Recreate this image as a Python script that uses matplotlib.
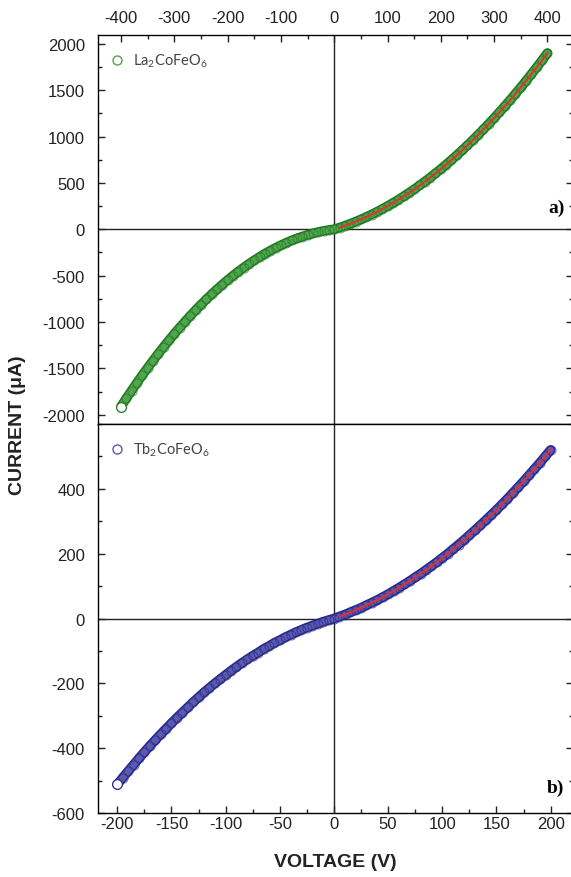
import numpy as np
import matplotlib.pyplot as plt
from matplotlib.ticker import MultipleLocator

plt.rcParams.update({
    "font.family": ["Liberation Sans", "DejaVu Sans"],
    "xtick.labelsize": 12,
    "ytick.labelsize": 12,
    "axes.linewidth": 1.0,
    "axes.unicode_minus": False,
})

# La2CoFeO6 : voltage (V) and current (uA), 10 V steps
V_la_pos = np.arange(0, 401, 10)
I_la_pos = [0, 18, 38, 59, 82, 106, 132, 159, 188, 218,
            250, 283, 318, 354, 392, 431, 472, 514, 558, 603,
            650, 698, 748, 799, 852, 906, 962, 1019, 1078, 1138,
            1200, 1263, 1328, 1394, 1462, 1531, 1602, 1674, 1748, 1823,
            1900]
V_la_neg = -np.arange(10, 401, 10)
I_la_neg = [-8, -18, -30, -44, -61, -79, -99, -121, -146, -172,
            -200, -231, -263, -298, -335, -373, -414, -456, -501, -548,
            -597, -648, -701, -756, -813, -872, -933, -996, -1061, -1128,
            -1197, -1268, -1342, -1417, -1495, -1574, -1655, -1739, -1824, -1912]

# Tb2CoFeO6 : voltage (V) and current (uA), 5 V steps
V_tb_pos = np.arange(0, 201, 5)
I_tb_pos = [0, 6, 12, 19, 26, 33, 41, 49, 57, 66,
            75, 85, 95, 105, 116, 127, 138, 150, 162, 174,
            187, 200, 214, 228, 242, 257, 272, 287, 303, 319,
            335, 352, 369, 387, 405, 423, 442, 461, 480, 500,
            520]
V_tb_neg = -np.arange(5, 201, 5)
I_tb_neg = [-5, -10, -16, -22, -28, -35, -42, -50, -58, -67,
            -75, -85, -94, -105, -115, -126, -137, -149, -161, -174,
            -187, -200, -214, -228, -243, -258, -274, -290, -306, -323,
            -340, -357, -375, -393, -412, -431, -451, -471, -491, -512]

green = ('#237a23', '#4fa64f')
blue = ('#2a2a8a', '#5a5ab0')
red = '#e5302a'

fig = plt.figure(figsize=(5.71, 8.78), dpi=100)
W, H = 571, 878
ax1 = fig.add_axes([97.5 / W, (H - 425) / H, 475 / W, 389 / H])
ax2 = fig.add_axes([97.5 / W, (H - 814) / H, 475 / W, 389 / H])


def draw_panel(ax, Vp, Ip, Vn, In, cols, name):
    V = np.concatenate([Vn[::-1], Vp])
    I = np.concatenate([In[::-1], Ip])
    dark, light = cols
    ax.axhline(0, color='#222222', lw=1.0, zorder=1)
    ax.axvline(0, color='#222222', lw=1.0, zorder=1)
    # densely packed open circles read as a band
    ax.plot(V, I, '-', color=dark, lw=7.0, solid_capstyle='round', zorder=2)
    ax.plot(V, I, '-', color=light, lw=4.8, solid_capstyle='round', zorder=2)
    ax.plot(V, I, 'o', ms=6.5, mfc='none', mec=dark, mew=0.7, alpha=0.7,
            zorder=2)
    ax.plot(V[:1], I[:1], 'o', ms=7.0, mfc='white', mec=dark, mew=0.9,
            zorder=2)
    ax.plot(Vp[1:], Ip[1:], '-', color=red, lw=1.4, zorder=3)
    ax.plot([], [], 'o', ms=6.5, mfc='none', mec=light, mew=1.0, label=name)
    leg = ax.legend(loc='upper left', bbox_to_anchor=(0.008, 0.985),
                    frameon=False, handlelength=0.6, handletextpad=0.8,
                    borderaxespad=0.35, prop={'family': 'Lato', 'size': 10.5})
    for t in leg.get_texts():
        t.set_color('#444444')
    ax.tick_params(which='both', direction='in', right=True, width=1.0,
                   colors='#222222')
    ax.tick_params(which='major', length=5)
    ax.tick_params(which='minor', length=3)


draw_panel(ax1, V_la_pos, I_la_pos, V_la_neg, I_la_neg, green,
           r'La$\mathregular{_2}$CoFeO$\mathregular{_6}$')
draw_panel(ax2, V_tb_pos, I_tb_pos, V_tb_neg, I_tb_neg, blue,
           r'Tb$\mathregular{_2}$CoFeO$\mathregular{_6}$')

# top panel: voltage axis on top
ax1.set_xlim(-444, 447)
ax1.set_ylim(-2100, 2095)
ax1.xaxis.set_major_locator(MultipleLocator(100))
ax1.xaxis.set_minor_locator(MultipleLocator(50))
ax1.yaxis.set_major_locator(MultipleLocator(500))
ax1.yaxis.set_minor_locator(MultipleLocator(250))
ax1.tick_params(axis='x', which='both', top=True, bottom=False,
                labeltop=True, labelbottom=False, pad=7)
ax1.tick_params(axis='y', pad=9)

# bottom panel
ax2.set_xlim(-218.3, 220.2)
ax2.set_ylim(-600, 600)
ax2.xaxis.set_major_locator(MultipleLocator(50))
ax2.xaxis.set_minor_locator(MultipleLocator(25))
ax2.yaxis.set_major_locator(MultipleLocator(200))
ax2.yaxis.set_minor_locator(MultipleLocator(100))
ax2.tick_params(axis='x', which='both', top=False, bottom=True, pad=2.5)
ax2.tick_params(axis='y', pad=9)
ax2.set_yticks([-600, -400, -200, 0, 200, 400])

ax1.text(0.983, 0.556, 'a)', transform=ax1.transAxes, ha='right', va='center',
         fontsize=14, fontweight='bold', family='Liberation Serif')
ax2.text(0.983, 0.065, 'b)', transform=ax2.transAxes, ha='right', va='center',
         fontsize=14, fontweight='bold', family='Liberation Serif')

fig.text(18 / W, 1 - 425 / H, 'CURRENT (\u03bcA)', rotation=90, ha='center',
         va='center', fontsize=14, fontweight='bold', color='#222222')
fig.text(335 / W, 1 - 863 / H, 'VOLTAGE (V)', ha='center', va='center',
         fontsize=14, fontweight='bold', color='#222222')

fig.savefig('out.png', dpi=100)
